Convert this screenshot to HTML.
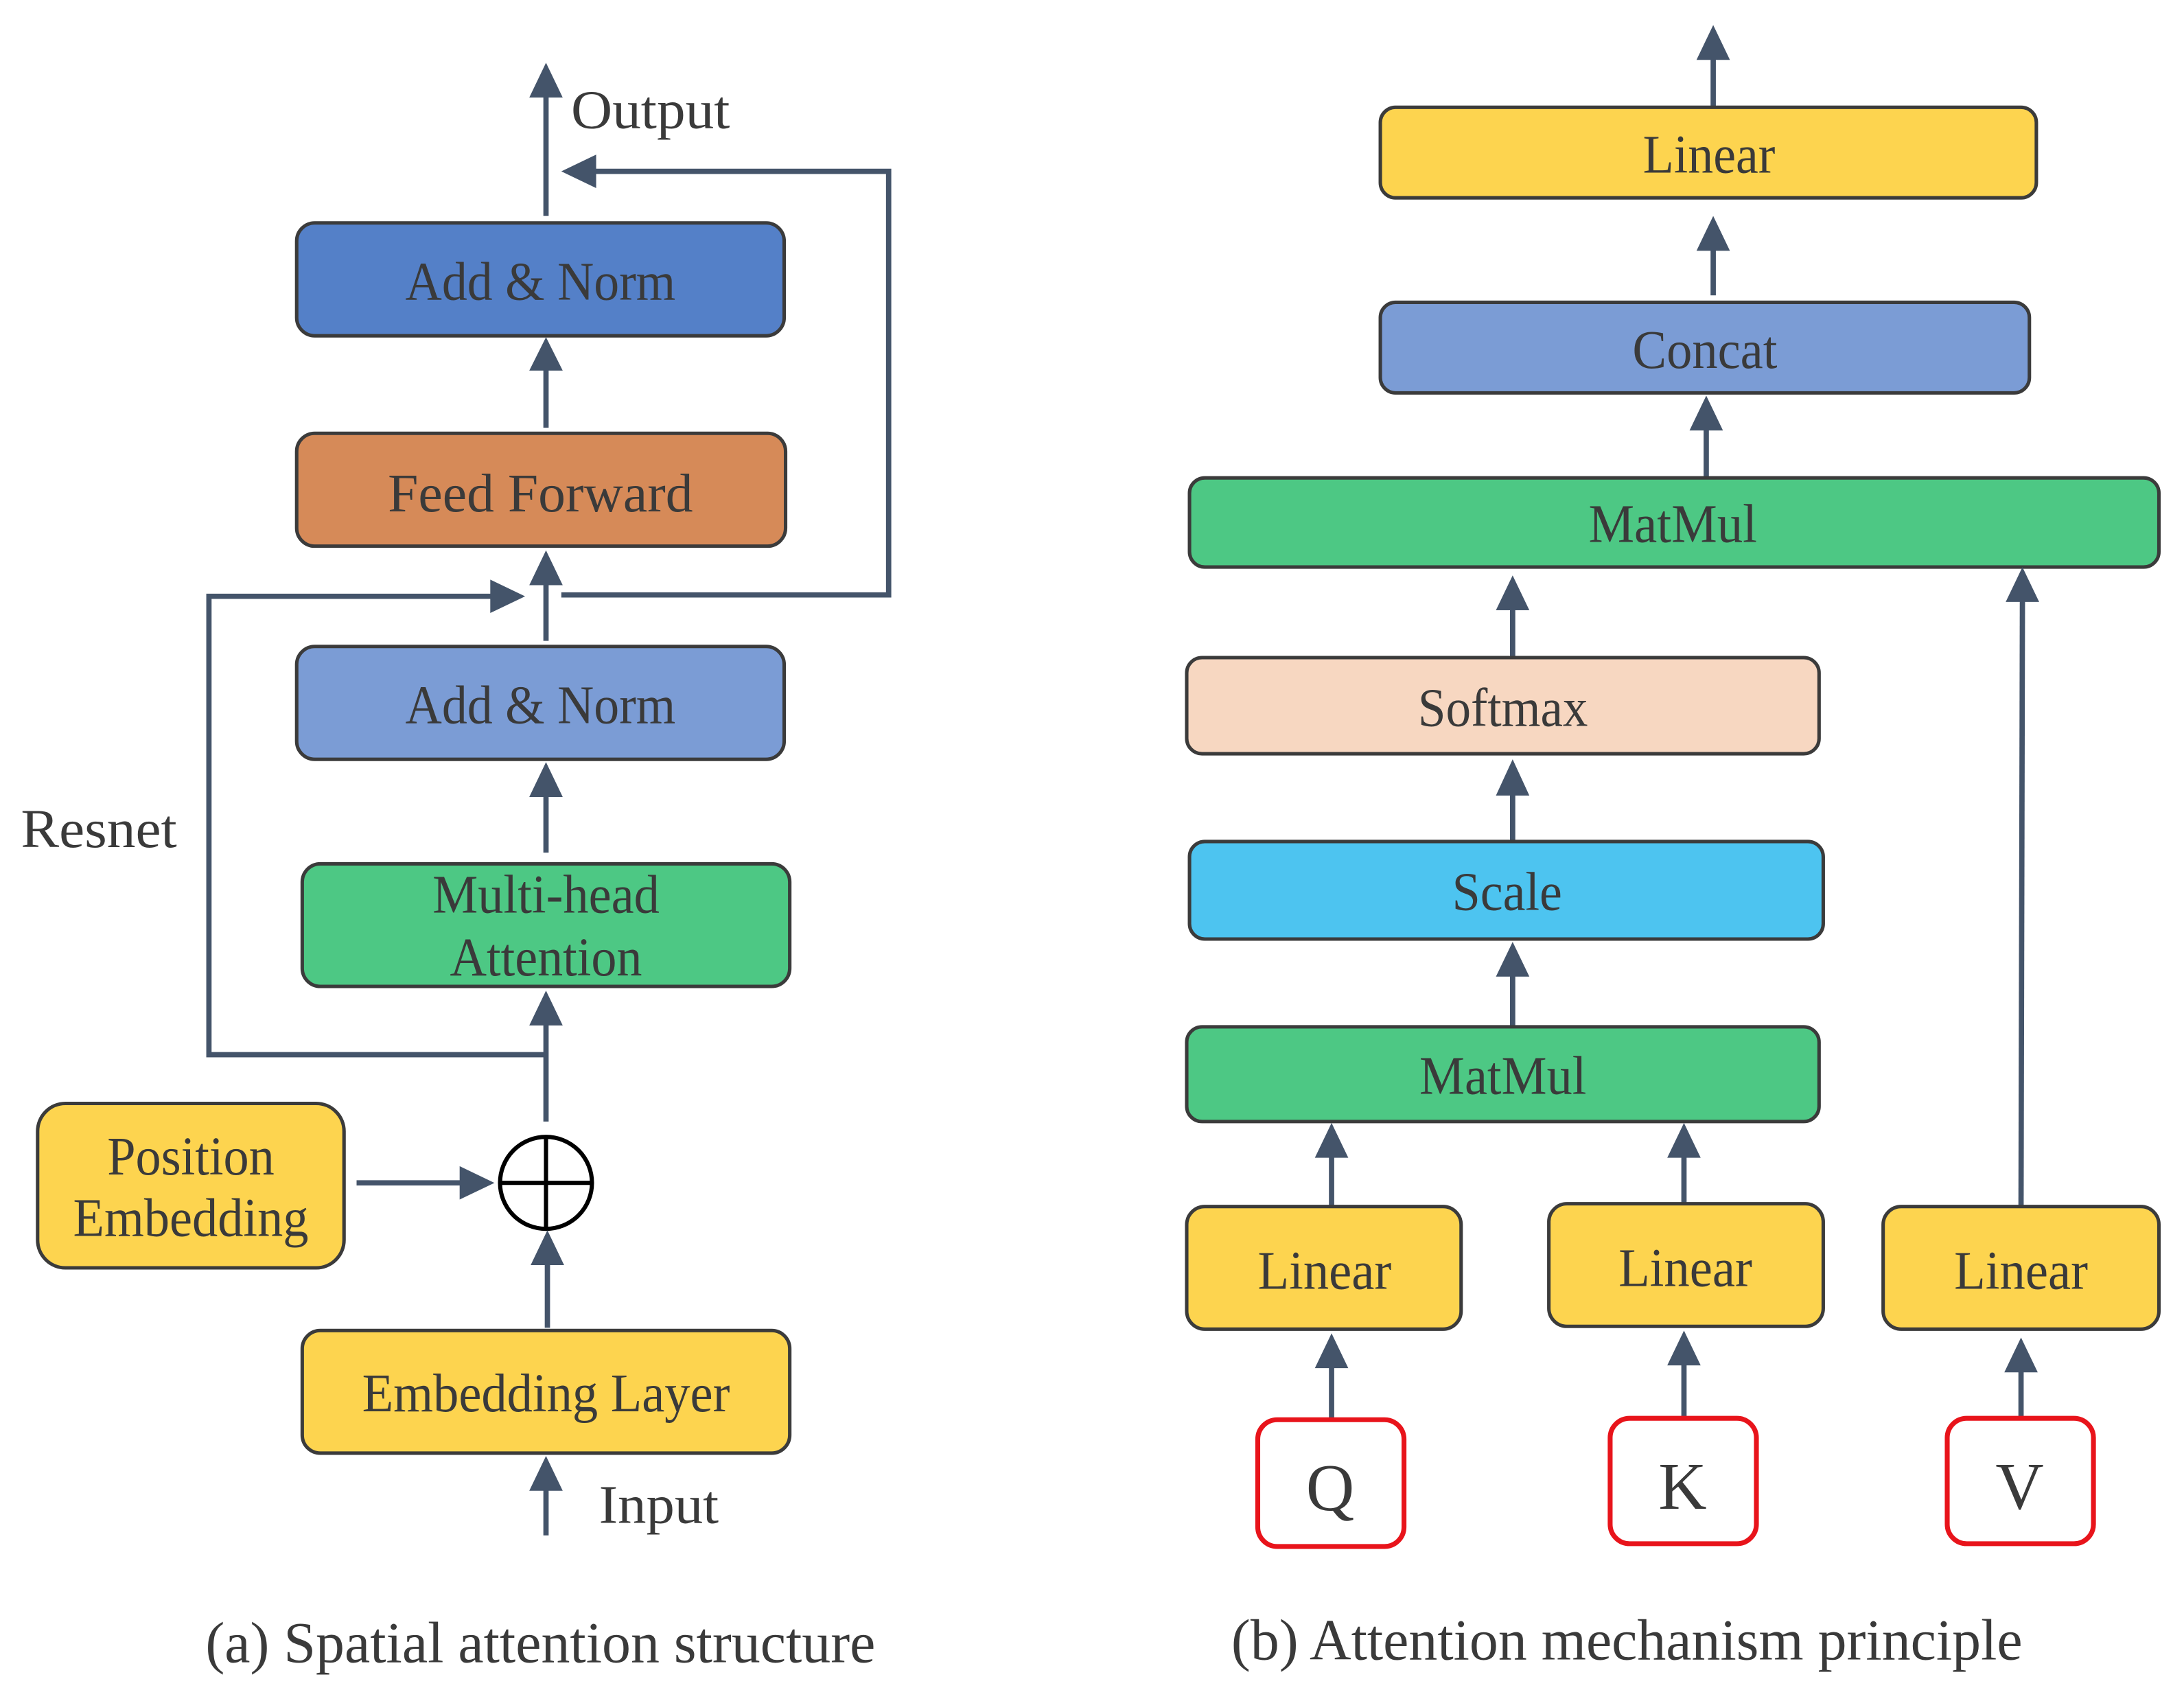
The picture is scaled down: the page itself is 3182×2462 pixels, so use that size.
<!DOCTYPE html>
<html><head><meta charset="utf-8"><style>html,body{margin:0;padding:0;background:#fff}svg{display:block}</style></head>
<body>
<svg width="3182" height="2462" viewBox="0 0 1568 1213" preserveAspectRatio="none" xmlns="http://www.w3.org/2000/svg">
<style>
.b{stroke:#3b3b3b;stroke-width:2.5}
.l{stroke:#44546A;stroke-width:3.8;fill:none}
.h{fill:#44546A}
text{font-family:"Liberation Serif",serif;fill:#3a3a3a;font-size:39px;text-anchor:middle}
</style>
<!-- LEFT PANEL -->
<line class="l" x1="392" y1="155" x2="392" y2="66"/>
<polygon class="h" points="380,70 404,70 392,45"/>
<text x="467" y="92" textLength="114" lengthAdjust="spacingAndGlyphs">Output</text>
<polyline class="l" points="403,427 638,427 638,123 425,123"/>
<polygon class="h" points="428,111 428,135 403,123"/>
<rect class="b" x="213" y="160" width="350" height="81" rx="13" fill="#5480C8"/>
<text x="388" y="215" textLength="194" lengthAdjust="spacingAndGlyphs">Add &amp; Norm</text>
<line class="l" x1="392" y1="307" x2="392" y2="262"/>
<polygon class="h" points="380,266 404,266 392,242"/>
<rect class="b" x="213" y="311" width="351" height="81" rx="13" fill="#D68A58"/>
<text x="388" y="367" textLength="219" lengthAdjust="spacingAndGlyphs">Feed Forward</text>
<line class="l" x1="392" y1="460" x2="392" y2="416"/>
<polygon class="h" points="380,420 404,420 392,395"/>
<polyline class="l" points="392,757 150,757 150,428 355,428"/>
<polygon class="h" points="352,416 352,440 377,428"/>
<text x="71" y="608" textLength="112" lengthAdjust="spacingAndGlyphs">Resnet</text>
<rect class="b" x="213" y="464" width="350" height="81" rx="13" fill="#7B9CD5"/>
<text x="388" y="519" textLength="194" lengthAdjust="spacingAndGlyphs">Add &amp; Norm</text>
<line class="l" x1="392" y1="612" x2="392" y2="568"/>
<polygon class="h" points="380,572 404,572 392,547"/>
<rect class="b" x="217" y="620" width="350" height="88" rx="13" fill="#4DC884"/>
<text x="392" y="655" textLength="163" lengthAdjust="spacingAndGlyphs">Multi-head</text>
<text x="392" y="700" textLength="138" lengthAdjust="spacingAndGlyphs">Attention</text>
<line class="l" x1="392" y1="805" x2="392" y2="732"/>
<polygon class="h" points="380,736 404,736 392,711"/>
<ellipse cx="392" cy="849" rx="33" ry="33" fill="#fff" stroke="#000" stroke-width="3"/>
<line x1="359" y1="849" x2="425" y2="849" stroke="#000" stroke-width="3"/>
<line x1="392" y1="816" x2="392" y2="882" stroke="#000" stroke-width="3"/>
<rect class="b" x="27" y="792" width="220" height="118" rx="20" fill="#FDD44F"/>
<text x="137" y="843" textLength="120" lengthAdjust="spacingAndGlyphs">Position</text>
<text x="137" y="887" textLength="169" lengthAdjust="spacingAndGlyphs">Embedding</text>
<line class="l" x1="256" y1="849" x2="332" y2="849"/>
<polygon class="h" points="330,837 330,861 355,849"/>
<line class="l" x1="393" y1="953" x2="393" y2="904"/>
<polygon class="h" points="381,908 405,908 393,883"/>
<rect class="b" x="217" y="955" width="350" height="88" rx="13" fill="#FDD44F"/>
<text x="392" y="1013" textLength="264" lengthAdjust="spacingAndGlyphs">Embedding Layer</text>
<line class="l" x1="392" y1="1102" x2="392" y2="1068"/>
<polygon class="h" points="380,1070 404,1070 392,1045"/>
<text x="473" y="1093" textLength="86" lengthAdjust="spacingAndGlyphs">Input</text>
<text x="388" y="1193" style="font-size:42px" textLength="481" lengthAdjust="spacingAndGlyphs">(a) Spatial attention structure</text>

<!-- RIGHT PANEL -->
<line class="l" x1="1230" y1="77" x2="1230" y2="40"/>
<polygon class="h" points="1218,43 1242,43 1230,18"/>
<rect class="b" x="991" y="77" width="471" height="65" rx="11" fill="#FDD44F"/>
<text x="1227" y="124" textLength="95" lengthAdjust="spacingAndGlyphs">Linear</text>
<line class="l" x1="1230" y1="212" x2="1230" y2="176"/>
<polygon class="h" points="1218,180 1242,180 1230,155"/>
<rect class="b" x="991" y="217" width="466" height="65" rx="11" fill="#7B9CD5"/>
<text x="1224" y="264" textLength="104" lengthAdjust="spacingAndGlyphs">Concat</text>
<line class="l" x1="1225" y1="343" x2="1225" y2="306"/>
<polygon class="h" points="1213,309 1237,309 1225,284"/>
<rect class="b" x="854" y="343" width="696" height="64" rx="11" fill="#4DC884"/>
<text x="1201" y="389" textLength="121" lengthAdjust="spacingAndGlyphs">MatMul</text>
<line class="l" x1="1086" y1="472" x2="1086" y2="434"/>
<polygon class="h" points="1074,438 1098,438 1086,413"/>
<line class="l" x1="1451" y1="865" x2="1452" y2="428"/>
<polygon class="h" points="1440,432 1464,432 1452,407"/>
<rect class="b" x="852" y="472" width="454" height="69" rx="11" fill="#F7D7C1"/>
<text x="1079" y="521" textLength="122" lengthAdjust="spacingAndGlyphs">Softmax</text>
<line class="l" x1="1086" y1="604" x2="1086" y2="567"/>
<polygon class="h" points="1074,571 1098,571 1086,545"/>
<rect class="b" x="854" y="604" width="455" height="70" rx="11" fill="#4DC4F0"/>
<text x="1082" y="653" textLength="79" lengthAdjust="spacingAndGlyphs">Scale</text>
<line class="l" x1="1086" y1="737" x2="1086" y2="698"/>
<polygon class="h" points="1074,701 1098,701 1086,676"/>
<rect class="b" x="852" y="737" width="454" height="68" rx="11" fill="#4DC884"/>
<text x="1079" y="785" textLength="120" lengthAdjust="spacingAndGlyphs">MatMul</text>
<line class="l" x1="956" y1="865" x2="956" y2="827"/>
<polygon class="h" points="944,831 968,831 956,806"/>
<line class="l" x1="1209" y1="865" x2="1209" y2="827"/>
<polygon class="h" points="1197,831 1221,831 1209,806"/>
<rect class="b" x="852" y="866" width="197" height="88" rx="13" fill="#FDD44F"/>
<text x="951" y="925" textLength="96" lengthAdjust="spacingAndGlyphs">Linear</text>
<rect class="b" x="1112" y="864" width="197" height="88" rx="13" fill="#FDD44F"/>
<text x="1210" y="923" textLength="96" lengthAdjust="spacingAndGlyphs">Linear</text>
<rect class="b" x="1352" y="866" width="198" height="88" rx="13" fill="#FDD44F"/>
<text x="1451" y="925" textLength="96" lengthAdjust="spacingAndGlyphs">Linear</text>
<line class="l" x1="956" y1="1018" x2="956" y2="978"/>
<polygon class="h" points="944,982 968,982 956,957"/>
<line class="l" x1="1209" y1="1018" x2="1209" y2="976"/>
<polygon class="h" points="1197,980 1221,980 1209,955"/>
<line class="l" x1="1451" y1="1018" x2="1451" y2="981"/>
<polygon class="h" points="1439,985 1463,985 1451,960"/>
<rect x="903" y="1019" width="105" height="91" rx="14" fill="#fff" stroke="#E8141B" stroke-width="3.5"/>
<text x="955" y="1084" style="font-size:48px">Q</text>
<rect x="1156" y="1018" width="105" height="90" rx="14" fill="#fff" stroke="#E8141B" stroke-width="3.5"/>
<text x="1208" y="1083" style="font-size:48px">K</text>
<rect x="1398" y="1018" width="105" height="90" rx="14" fill="#fff" stroke="#E8141B" stroke-width="3.5"/>
<text x="1450" y="1083" style="font-size:48px">V</text>
<text x="1168" y="1191" style="font-size:42px" textLength="568" lengthAdjust="spacingAndGlyphs">(b) Attention mechanism principle</text>
</svg>
</body></html>
